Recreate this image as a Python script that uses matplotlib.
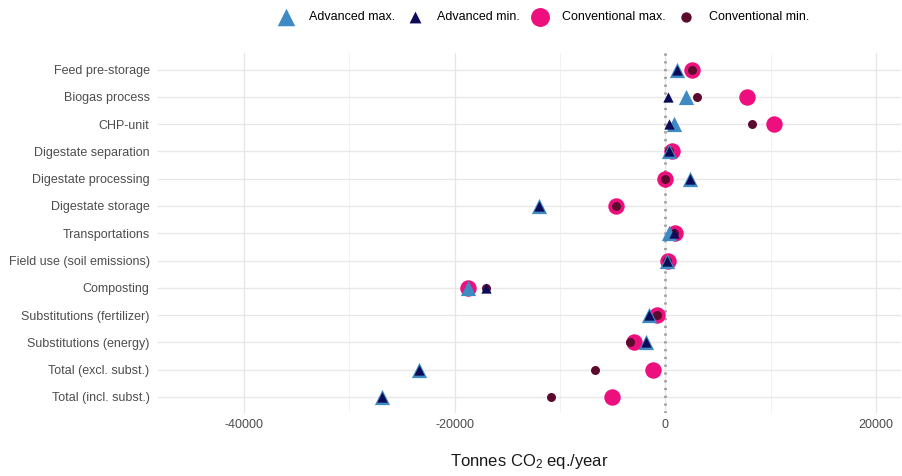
import numpy as np
import matplotlib
matplotlib.use("Agg")
import matplotlib.pyplot as plt

plt.rcParams['font.family'] = ['Liberation Sans', 'DejaVu Sans']
plt.rcParams['mathtext.default'] = 'regular'

categories = ['Feed pre-storage', 'Biogas process', 'CHP-unit', 'Digestate separation',
              'Digestate processing', 'Digestate storage', 'Transportations',
              'Field use (soil emissions)', 'Composting', 'Substitutions (fertilizer)',
              'Substitutions (energy)', 'Total (excl. subst.)', 'Total (incl. subst.)']

# tonnes CO2 eq./year
adv_max = [1150, 1950, 850, 400, 2380, -12000, 320, 160, -18750, -1580, -1870, -23430, -26900]
adv_min = [1150, 250, 400, 400, 2380, -12000, 800, 160, -17000, -1580, -1870, -23430, -26900]
conv_max = [2500, 7750, 10350, 640, 0, -4650, 890, 220, -18750, -790, -3000, -1170, -5070]
conv_min = [2500, 3000, 8270, 400, 0, -4650, 800, 200, -17000, -790, -3330, -6650, -10900]

xticks = [-40000, -20000, 0, 20000]
xtick_labels = ['-40000', '-20000', '0', '20000']
minor_ticks = [-30000, -10000, 10000]

fig = plt.figure(figsize=(9.02, 4.76), dpi=100)
ax = fig.add_axes([0.175, 0.132, 0.824, 0.756])

y = np.arange(len(categories))

# grid
for v in xticks:
    ax.axvline(v, color='#e6e6e6', lw=0.9, zorder=0)
for v in minor_ticks:
    ax.axvline(v, color='#f0f0f0', lw=0.6, zorder=0)
for yy in y:
    ax.axhline(yy, color='#e8e8e8', lw=1.0, zorder=0)
ax.axvline(0, color='#a0a0a0', lw=2, linestyle=(0, (0.8, 2)), zorder=1)

ax.scatter(conv_max, y, s=140, marker='o', color='#ec0f7d', label='Conventional max.', zorder=2, linewidths=0)
ax.scatter(conv_min, y, s=42, marker='o', color='#5c0b2e', label='Conventional min.', zorder=3, linewidths=0)
ax.scatter(adv_max, y, s=120, marker='^', color='#3d8ac4', label='Advanced max.', zorder=4, linewidths=0)
ax.scatter(adv_min, y, s=55, marker='^', color='#0d0a57', label='Advanced min.', zorder=5, linewidths=0)

ax.set_xlim(-48200, 22400)
ax.set_ylim(len(categories) - 0.4, -0.6)
ax.set_yticks(y, categories)
ax.set_xticks(xticks, xtick_labels)
ax.tick_params(axis='both', length=0, labelsize=9, colors='#4d4d4d', pad=4)
ax.tick_params(axis='y', pad=6)
for s in ax.spines.values():
    s.set_visible(False)

ax.set_xlabel('Tonnes CO$_2$ eq./year', fontsize=12, color='#1a1a1a', labelpad=15)

handles, labels = ax.get_legend_handles_labels()
order = [2, 3, 0, 1]
fig.legend([handles[i] for i in order], [labels[i] for i in order],
           loc='upper center', bbox_to_anchor=(0.6, 1.0), ncol=4, frameon=False,
           fontsize=9, handletextpad=0.8, columnspacing=0.6, scatterpoints=1,
           markerscale=1.15)

fig.savefig('out.png', dpi=100, facecolor='white')
